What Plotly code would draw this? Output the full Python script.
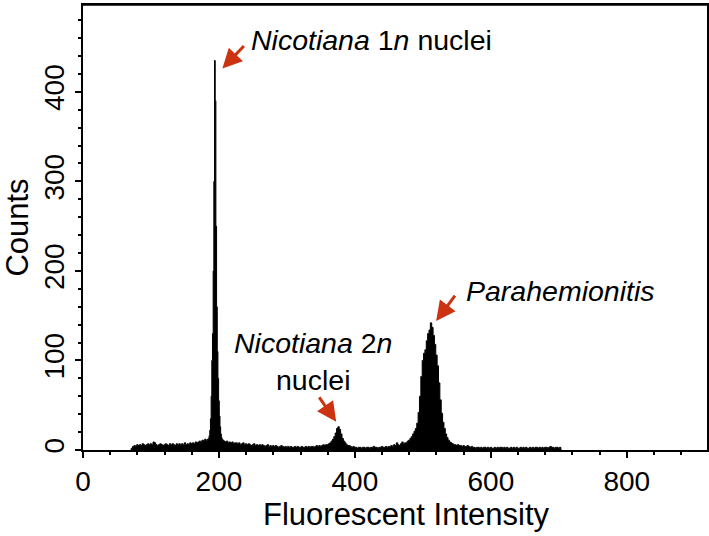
import plotly.graph_objects as go

# histogram counts (bin width 2 except the narrow 1n peak)
BG1_START, BG1_STEP = 70, 2
BG1 = [0, 2, 4, 5, 4, 6, 5, 6, 5, 7,
       6, 5, 6, 7, 6, 7, 6, 9, 8, 6,
       5, 6, 7, 6, 5, 6, 7, 6, 5, 7,
       6, 7, 6, 5, 7, 6, 7, 6, 7, 6,
       8, 6, 7, 6, 8, 7, 8, 7, 9, 8,
       9, 10, 9, 11, 10, 12, 11]

PEAK1_START, PEAK1_STEP = 184, 1
PEAK1 = [12, 13, 16, 22, 35, 60, 100, 130, 200, 300, 435,
         390, 250, 160, 110, 80, 55, 38, 26, 18, 14, 12]

BG2_START, BG2_STEP = 206, 2
BG2 = [11, 10, 9, 10, 8, 9, 8, 9, 7, 8,
       8, 7, 8, 6, 7, 8, 6, 7, 6, 7,
       6, 5, 6, 7, 5, 6, 5, 6, 5, 6,
       5, 4, 5, 6, 4, 5, 4, 5, 4, 5,
       4, 3, 4, 5, 4, 3, 4, 3, 4, 3,
       4, 3, 3, 4, 3, 4, 3, 3, 4, 3,
       3, 4, 3, 4, 3, 4, 4, 3, 4, 5,
       4, 5, 4, 5, 6, 5, 6]

PEAK2_START, PEAK2_STEP = 360, 2
PEAK2 = [6, 7, 8, 10, 12, 15, 19, 24, 26, 23, 18, 13, 10, 8, 6, 5, 5, 4]

BG3_START, BG3_STEP = 396, 2
BG3 = [3, 4, 3, 3, 2, 3, 3, 2, 3, 3,
       2, 3, 3, 2, 3, 3, 4, 3, 3, 2,
       3, 3, 4, 3, 3, 4, 3, 4, 4, 5,
       4, 6, 5, 8, 6, 5, 7, 9, 7, 8]

PEAK3_START, PEAK3_STEP = 476, 2
PEAK3 = [8, 10, 11, 13, 15, 18, 21, 24, 30, 42,
         60, 82, 100, 108, 112, 122, 130, 134, 142, 137,
         128, 118, 106, 94, 75, 56, 41, 31, 24, 18,
         14, 11, 9, 8, 7, 6, 6, 5, 6, 5, 5]

BG4_START, BG4_STEP = 558, 2
BG4 = [4, 5, 4, 4, 5, 4, 3, 4, 3, 3,
       2, 3, 3, 2, 3, 2, 3, 3, 2, 3,
       2, 3, 2, 2, 3, 2, 3, 2, 3, 3,
       2, 3, 2, 3, 2, 2, 3, 2, 3, 2,
       3, 2, 2, 3, 2, 3, 2, 3, 2, 2,
       3, 2, 3, 2, 3, 3, 2, 3, 2, 3,
       2, 3, 3, 2, 3, 4, 3, 3, 2, 3,
       3, 2, 3, 0]

SEGMENTS = [(BG1_START, BG1_STEP, BG1), (PEAK1_START, PEAK1_STEP, PEAK1),
            (BG2_START, BG2_STEP, BG2), (PEAK2_START, PEAK2_STEP, PEAK2),
            (BG3_START, BG3_STEP, BG3), (PEAK3_START, PEAK3_STEP, PEAK3),
            (BG4_START, BG4_STEP, BG4)]

X_TICKS = [0, 200, 400, 600, 800]
Y_TICKS = [0, 100, 200, 300, 400]

ARROW_RED = '#CC3311'
FONT = 'Liberation Sans, Arial, sans-serif'

channels, counts = [], []
for start, step, vals in SEGMENTS:
    channels += [start + i * step for i in range(len(vals))]
    counts += vals

fig = go.Figure(go.Scatter(
    x=channels, y=counts, mode='lines', line_shape='hvh',
    line=dict(color='black', width=1), fill='tozeroy', fillcolor='black',
    hoverinfo='skip'))

axis_common = dict(showline=True, linecolor='black', linewidth=1.5, mirror=True,
                   ticks='outside', ticklen=6, tickwidth=1.5, tickcolor='black',
                   showgrid=False, zeroline=False, automargin=False,
                   tickfont=dict(size=28, color='black'))

fig.update_layout(
    width=709, height=536,
    paper_bgcolor='white', plot_bgcolor='white',
    font=dict(family=FONT, color='black'),
    margin=dict(l=83, r=2, t=5, b=86),
    showlegend=False,
    xaxis=dict(range=[0, 918], tickvals=X_TICKS,
               minor=dict(dtick=40, tick0=0, ticks='outside', ticklen=3, tickcolor='black'),
               **axis_common),
    yaxis=dict(range=[0, 497], tickvals=Y_TICKS, tickangle=-90,
               minor=dict(dtick=20, tick0=0, ticks='outside', ticklen=3, tickcolor='black'),
               title=dict(text='Counts', font=dict(size=31), standoff=4),
               **axis_common),
)

# top edge of the frame
fig.add_shape(type='line', xref='paper', yref='paper', x0=0, x1=1, y0=1, y1=1,
              line=dict(color='black', width=1.5))

# x title sits a little right of centre in the original
fig.add_annotation(x=0.518, y=-0.146, xref='paper', yref='paper',
                   text='Fluorescent Intensity', showarrow=False,
                   xanchor='center', yanchor='middle', font=dict(size=31, color='black'))

labels = [
    dict(x=244, y=458, text='<i>Nicotiana</i> 1<i>n</i> nuclei', xanchor='left'),
    dict(x=338, y=99, text='<i>Nicotiana</i> 2<i>n</i><br>nuclei', xanchor='center'),
    dict(x=560, y=178, text='<i>Parahemionitis</i>', xanchor='left'),
]
for a in labels:
    fig.add_annotation(**a, yanchor='middle', showarrow=False,
                       font=dict(size=28.5, color='black'))

arrows = [(205, 426, 23, -24), (372.5, 31.5, -18, -26), (519.5, 144, 20, -27)]
for x, y, ax, ay in arrows:
    fig.add_annotation(x=x, y=y, ax=ax, ay=ay, text='', showarrow=True,
                       arrowhead=2, arrowsize=1.3, arrowwidth=3, arrowcolor=ARROW_RED)

# page body has an 8px default margin; drop it so the figure sits at 0,0
fig.write_html('out.html', config={'displayModeBar': False},
               post_script="document.body.style.margin='0';")
